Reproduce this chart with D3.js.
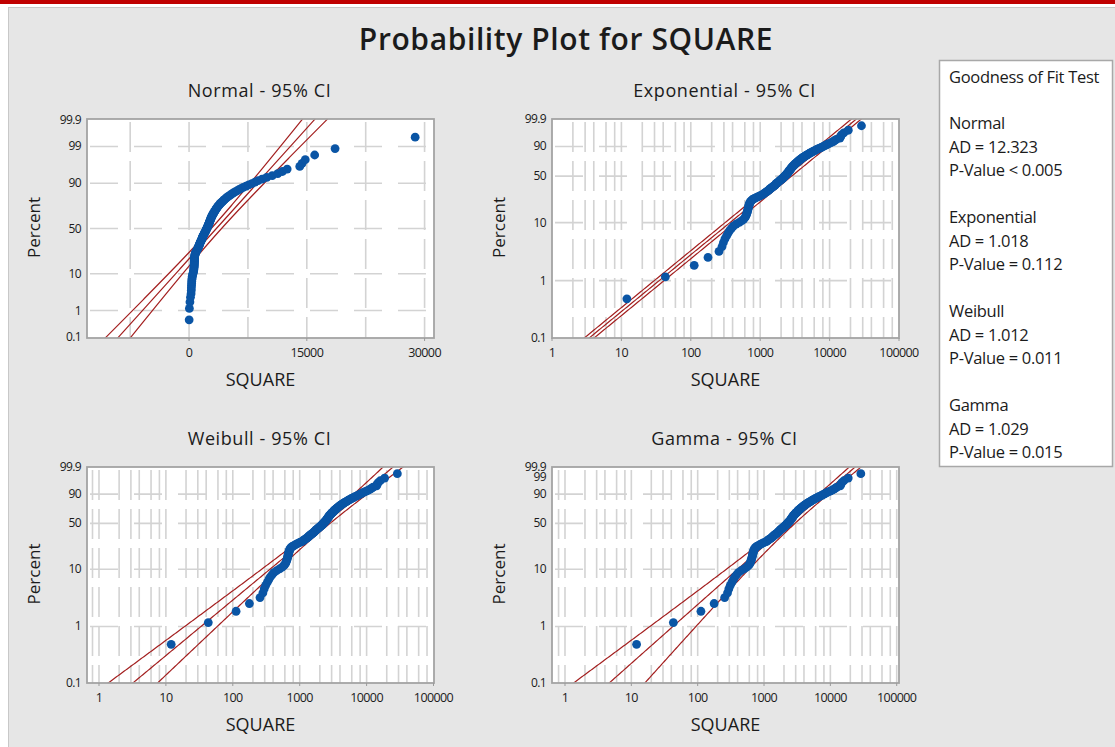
<!DOCTYPE html>
<html>
<head>
<meta charset="utf-8">
<script src="https://cdn.jsdelivr.net/npm/d3@7"></script>
<style>
  body { margin: 0; background: #fff; }
  text { font-family: "Open Sans", "Noto Sans", sans-serif; fill: #1b1b1b; }
</style>
</head>
<body>
<script>
const width = 1115;
const height = 747;

// sorted SQUARE sample
const square = [
  12, 43, 112, 177, 255, 282, 295, 310, 328, 345,
  362, 385, 410, 450, 500, 545, 580, 605, 620, 632,
  642, 650, 657, 664, 670, 676, 682, 688, 695, 703,
  712, 724, 740, 760, 790, 830, 870, 920, 970, 1020,
  1080, 1120, 1150, 1190, 1230, 1270, 1310, 1340, 1370, 1400,
  1440, 1480, 1520, 1560, 1600, 1640, 1660, 1690, 1720, 1760,
  1800, 1840, 1880, 1920, 1950, 2000, 2040, 2080, 2120, 2160,
  2190, 2230, 2260, 2300, 2330, 2370, 2410, 2440, 2470, 2500,
  2530, 2560, 2590, 2620, 2650, 2680, 2710, 2740, 2770, 2800,
  2840, 2880, 2920, 2960, 3000, 3050, 3100, 3150, 3200, 3250,
  3300, 3360, 3420, 3480, 3540, 3600, 3680, 3760, 3840, 3920,
  4000, 4100, 4200, 4300, 4420, 4540, 4660, 4800, 4950, 5100,
  5280, 5450, 5650, 5850, 6100, 6350, 6600, 6900, 7250, 7600,
  8000, 8400, 8800, 9300, 9900, 10600, 11300, 11900, 12500, 14100,
  14400, 14800, 16000, 18600, 28800,
];

// fitted parameters
const normalFit = [3480, 4050];   // mean, st dev
const expoFit = [3480];           // scale
const weibullFit = [0.99, 3490];  // shape, scale
const gammaFit = [1.05, 3314];    // shape, scale

const panelTitles = ['Normal - 95% CI', 'Exponential - 95% CI', 'Weibull - 95% CI', 'Gamma - 95% CI'];
const normalPct = [0.1, 1, 10, 50, 90, 99, 99.9];
const expoPct = [0.1, 1, 10, 50, 90, 99.9];
const gammaPct = [0.1, 1, 10, 50, 90, 99, 99.9];
const pctGrid = [1, 10, 50, 90, 99];
const logPctGrid = [1, 10, 50, 90];
const normalXTicks = [0, 15000, 30000];
const normalXGrid = [-7500, 0, 7500, 15000, 22500, 30000];
const logXTicks = [1, 10, 100, 1000, 10000, 100000];
const logMinor = [2, 3, 4, 6, 8];

const gofNames = ['Normal', 'Exponential', 'Weibull', 'Gamma'];
const gofAD = ['12.323', '1.018', '1.012', '1.029'];
const gofP = ['< 0.005', '= 0.112', '= 0.011', '= 0.015'];

const n = square.length;
const zCI = 1.96;
const blue = '#0a55a5';
const red = '#a31f1f';

// ---- math helpers ----
const probit = (p) => {
  const a = [-3.969683028665376e+01, 2.209460984245205e+02, -2.759285104469687e+02, 1.383577518672690e+02, -3.066479806614716e+01, 2.506628277459239e+00];
  const b = [-5.447609879822406e+01, 1.615858368580409e+02, -1.556989798598866e+02, 6.680131188771972e+01, -1.328068155288572e+01];
  const c = [-7.784894002430293e-03, -3.223964580411365e-01, -2.400758277161838e+00, -2.549732539343734e+00, 4.374664141464968e+00, 2.938163982698783e+00];
  const d = [7.784695709041462e-03, 3.224671290700398e-01, 2.445134137142996e+00, 3.754408661907416e+00];
  const tail = (q) => (((((c[0] * q + c[1]) * q + c[2]) * q + c[3]) * q + c[4]) * q + c[5]) /
    ((((d[0] * q + d[1]) * q + d[2]) * q + d[3]) * q + 1);
  if (p < 0.02425) return tail(Math.sqrt(-2 * Math.log(p)));
  if (p > 1 - 0.02425) return -tail(Math.sqrt(-2 * Math.log(1 - p)));
  const q = p - 0.5, r = q * q;
  return (((((a[0] * r + a[1]) * r + a[2]) * r + a[3]) * r + a[4]) * r + a[5]) * q /
    (((((b[0] * r + b[1]) * r + b[2]) * r + b[3]) * r + b[4]) * r + 1);
};

const sev = (p) => Math.log(-Math.log(1 - p));
const sevInv = (u) => 1 - Math.exp(-Math.exp(u));

const lnGamma = (z) => {
  const g = [76.18009172947146, -86.50532032941677, 24.01409824083091, -1.231739572450155, 0.1208650973866179e-2, -0.5395239384953e-5];
  let y = z;
  let tmp = z + 5.5;
  tmp -= (z + 0.5) * Math.log(tmp);
  let ser = 1.000000000190015;
  for (const c of g) ser += c / ++y;
  return -tmp + Math.log(2.5066282746310005 * ser / z);
};

const gammaP = (a, x) => {
  if (x <= 0) return 0;
  const front = Math.exp(-x + a * Math.log(x) - lnGamma(a));
  if (x < a + 1) {
    let ap = a, sum = 1 / a, del = sum;
    for (let i = 0; i < 500; i++) {
      ap += 1; del *= x / ap; sum += del;
      if (Math.abs(del) < Math.abs(sum) * 1e-14) break;
    }
    return sum * front;
  }
  let b = x + 1 - a, c = 1e300, d = 1 / b, h = d;
  for (let i = 1; i < 500; i++) {
    const an = -i * (i - a);
    b += 2;
    d = an * d + b; if (Math.abs(d) < 1e-300) d = 1e-300;
    c = b + an / c; if (Math.abs(c) < 1e-300) c = 1e-300;
    d = 1 / d;
    const del = d * c;
    h *= del;
    if (Math.abs(del - 1) < 1e-14) break;
  }
  return 1 - front * h;
};

const gammaQuantile = (k, p) => {
  let lo = Math.log(1e-12), hi = Math.log(200);
  for (let i = 0; i < 70; i++) {
    const mid = (lo + hi) / 2;
    if (gammaP(k, Math.exp(mid)) < p) lo = mid; else hi = mid;
  }
  return Math.exp((lo + hi) / 2);
};

const trigamma = (x) => {
  let s = 0;
  while (x < 6) { s += 1 / (x * x); x += 1; }
  const x2 = x * x;
  return s + 1 / x + 1 / (2 * x2) + 1 / (6 * x2 * x) - 1 / (30 * x2 * x2 * x) + 1 / (42 * x2 * x2 * x2 * x);
};

// ---- fit lines: for a transformed percent t, give [lower, fit, upper] in data units ----
const normalLine = (z) => {
  const [mu, sd] = normalFit;
  const x = mu + z * sd;
  const se = sd * Math.sqrt((1 + z * z / 2) / n);
  return [x - zCI * se, x, x + zCI * se];
};

const expoLine = (u) => {
  const x = expoFit[0] * Math.exp(u);
  const f = Math.exp(zCI / Math.sqrt(n));
  return [x / f, x, x * f];
};

const weibullLine = (u) => {
  const [beta, eta] = weibullFit;
  const s = 1 / beta;
  const lx = Math.log(eta) + u * s;
  const sd = s * Math.sqrt((1.1087 + 2 * 0.2570 * u + 0.6079 * u * u) / n);
  return [Math.exp(lx - zCI * sd), Math.exp(lx), Math.exp(lx + zCI * sd)];
};

const gammaLine = (u) => {
  const [k, theta] = gammaFit;
  const p = sevInv(u);
  const q = gammaQuantile(k, p);
  const h = 1e-3;
  const dq = (Math.log(gammaQuantile(k + h, p)) - Math.log(gammaQuantile(k - h, p))) / (2 * h);
  const det = n * (k * trigamma(k) - 1);
  const v = trigamma(k) / det + dq * dq * k / det - 2 * dq / det;
  const lx = Math.log(theta * q);
  const sd = Math.sqrt(v);
  return [Math.exp(lx - zCI * sd), Math.exp(lx), Math.exp(lx + zCI * sd)];
};

// ---- page ----
const svg = d3.select('body')
  .append('svg')
    .attr('width', width)
    .attr('height', height)
    .attr('viewBox', [0, 0, width, height].join(' '));

svg.append('rect')
  .attr('x', 0).attr('y', 0).attr('width', width).attr('height', 4)
  .attr('fill', '#c00000');

svg.append('rect')
  .attr('x', 8.5).attr('y', 7.5).attr('width', width).attr('height', height)
  .attr('fill', '#e6e6e6')
  .attr('stroke', '#c8c8c8');

svg.append('text')
  .attr('x', 566).attr('y', 50)
  .attr('text-anchor', 'middle')
  .style('font-size', '30px')
  .style('font-weight', 600)
  .style('letter-spacing', '0.6px')
  .text('Probability Plot for SQUARE');

const pos = (i) => (i + 1 - 0.3) / (n + 0.4);

const panels = [{
  title: panelTitles[0],
  box: [87, 119, 434, 338],
  log: false,
  xDomain: [-13000, 31200],
  xTicks: normalXTicks,
  xGrid: normalXGrid,
  tf: probit,
  pct: normalPct,
  grid: pctGrid,
  line: normalLine,
}, {
  title: panelTitles[1],
  box: [552, 119, 899, 338],
  log: true,
  xDomain: [1, 100000],
  xTicks: logXTicks,
  tf: sev,
  pct: expoPct,
  grid: logPctGrid,
  line: expoLine,
}, {
  title: panelTitles[2],
  box: [87, 467, 434, 683],
  log: true,
  xDomain: [0.662, 101700],
  xTicks: logXTicks,
  tf: sev,
  pct: expoPct,
  grid: logPctGrid,
  line: weibullLine,
}, {
  title: panelTitles[3],
  box: [552, 467, 899, 683],
  log: true,
  xDomain: [0.637, 108300],
  xTicks: logXTicks,
  tf: sev,
  pct: gammaPct,
  grid: logPctGrid,
  line: gammaLine,
}];

const drawPanel = (cfg, idx) => {
  const [x0, y0, x1, y1] = cfg.box;
  const tLo = cfg.tf(0.001) - 0.015;
  const tHi = cfg.tf(0.999) + 0.015;

  const x = (cfg.log ? d3.scaleLog() : d3.scaleLinear())
    .domain(cfg.xDomain)
    .range([x0, x1]);

  const y = d3.scaleLinear()
    .domain([tLo, tHi])
    .range([y1, y0]);

  const g = svg.append('g');

  g.append('clipPath')
    .attr('id', `clip${idx}`)
    .append('rect')
      .attr('x', x0).attr('y', y0)
      .attr('width', x1 - x0).attr('height', y1 - y0);

  g.append('rect')
    .attr('x', x0).attr('y', y0)
    .attr('width', x1 - x0).attr('height', y1 - y0)
    .attr('fill', '#fff');

  // grid
  let xGrid = cfg.xGrid;
  if (cfg.log) {
    xGrid = [];
    logXTicks.forEach((d) => {
      xGrid.push(d);
      if (d < 100000) logMinor.forEach((m) => xGrid.push(d * m));
    });
    xGrid.push(0.8);
  }
  xGrid = xGrid.filter((d) => d > cfg.xDomain[0] && d < cfg.xDomain[1] && Math.abs(x(d) - x1) > 2);

  const grid = g.append('g')
    .attr('stroke', '#d3d3d3')
    .attr('stroke-width', 1.6)
    .attr('fill', 'none');

  grid.selectAll('line.v')
    .data(xGrid)
    .join('line')
      .attr('class', 'v')
      .attr('x1', (d) => x(d)).attr('x2', (d) => x(d))
      .attr('y1', y0 + 3).attr('y2', y1)
      .attr('stroke-dasharray', '30,9');

  grid.selectAll('line.h')
    .data(cfg.grid)
    .join('line')
      .attr('class', 'h')
      .attr('x1', x0 + 3).attr('x2', x1)
      .attr('y1', (d) => y(cfg.tf(d / 100))).attr('y2', (d) => y(cfg.tf(d / 100)))
      .attr('stroke-dasharray', '28,16');

  // fit line and confidence bounds
  const ts = d3.range(0, 241).map((i) => tLo - 0.3 + (tHi - tLo + 0.6) * i / 240);
  const rows = ts.map((t) => ({ t, v: cfg.line(t) }));

  const lineGen = (j) => d3.line()
    .defined((d) => !cfg.log || d.v[j] > 0)
    .x((d) => x(d.v[j]))
    .y((d) => y(d.t));

  g.append('g')
    .attr('clip-path', `url(#clip${idx})`)
    .selectAll('path')
    .data([0, 1, 2])
    .join('path')
      .attr('d', (j) => lineGen(j)(rows))
      .attr('fill', 'none')
      .attr('stroke', red)
      .attr('stroke-width', 1.2);

  // data points
  g.append('g')
    .attr('clip-path', `url(#clip${idx})`)
    .selectAll('circle')
    .data(square)
    .join('circle')
      .attr('cx', (d) => x(d))
      .attr('cy', (d, i) => y(cfg.tf(pos(i))))
      .attr('r', 4.4)
      .attr('fill', blue);

  // frame
  g.append('rect')
    .attr('x', x0).attr('y', y0)
    .attr('width', x1 - x0).attr('height', y1 - y0)
    .attr('fill', 'none')
    .attr('stroke', '#a3a3a3')
    .attr('stroke-width', 1.8);

  // y ticks
  g.selectAll('text.yt')
    .data(cfg.pct)
    .join('text')
      .attr('class', 'yt')
      .attr('x', x0 - 6)
      .attr('y', (d) => y(cfg.tf(d / 100)) + 4)
      .attr('text-anchor', 'end')
      .style('font-size', '12px')
      .style('letter-spacing', '-0.6px')
      .text((d) => d);

  // x ticks
  g.selectAll('line.xt')
    .data(cfg.xTicks)
    .join('line')
      .attr('class', 'xt')
      .attr('x1', (d) => x(d)).attr('x2', (d) => x(d))
      .attr('y1', y1).attr('y2', y1 + 3)
      .attr('stroke', '#9a9a9a');

  g.selectAll('text.xt')
    .data(cfg.xTicks)
    .join('text')
      .attr('class', 'xt')
      .attr('x', (d) => x(d))
      .attr('y', y1 + 19)
      .attr('text-anchor', 'middle')
      .style('font-size', '12.5px')
      .style('letter-spacing', '-0.6px')
      .text((d) => d);

  const cx = (x0 + x1) / 2;

  g.append('text')
    .attr('x', cx - 1)
    .attr('y', y0 - 22)
    .attr('text-anchor', 'middle')
    .style('font-size', '18px')
    .style('letter-spacing', '0.6px')
    .text(cfg.title);

  g.append('text')
    .attr('x', cx)
    .attr('y', y1 + 48)
    .attr('text-anchor', 'middle')
    .style('font-size', '18px')
    .text('SQUARE');

  g.append('text')
    .attr('transform', `translate(${x0 - 47}, ${(y0 + y1) / 2 - 1}) rotate(-90)`)
    .attr('text-anchor', 'middle')
    .style('font-size', '17px')
    .text('Percent');
};

panels.forEach(drawPanel);

// goodness of fit box
const legend = svg.append('g');

legend.append('rect')
  .attr('x', 939.5).attr('y', 60.5)
  .attr('width', 173).attr('height', 406)
  .attr('fill', '#fff')
  .attr('stroke', '#a8a8a8')
  .attr('stroke-width', 1.5);

const lines = [{ t: 'Goodness of Fit Test', y: 83 }];
gofNames.forEach((name, i) => {
  const top = 129 + i * 94;
  lines.push({ t: name, y: top });
  lines.push({ t: `AD = ${gofAD[i]}`, y: top + 23.5 });
  lines.push({ t: `P-Value ${gofP[i]}`, y: top + 47 });
});

legend.selectAll('text')
  .data(lines)
  .join('text')
    .attr('x', 949)
    .attr('y', (d) => d.y)
    .style('font-size', '16.5px')
    .style('letter-spacing', '-0.3px')
    .attr('xml:space', 'preserve')
    .text((d) => d.t);
</script>
</body>
</html>
